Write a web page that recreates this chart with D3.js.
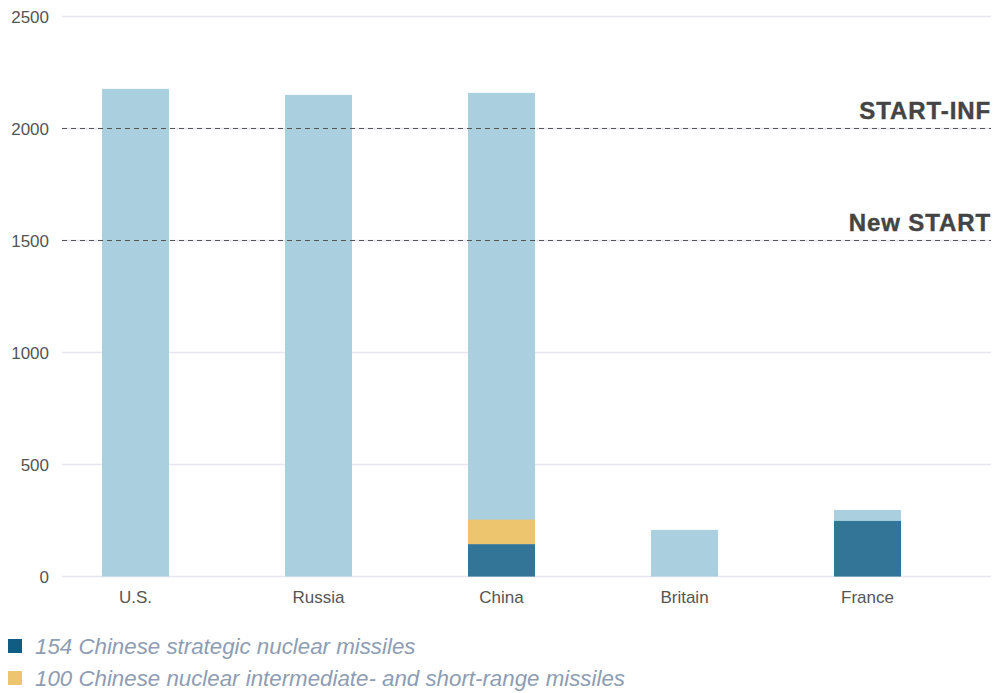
<!DOCTYPE html>
<html>
<head>
<meta charset="utf-8">
<script src="https://cdn.jsdelivr.net/npm/d3@7"></script>
<style>
  html, body { margin: 0; padding: 0; background: #fff; }
  svg { display: block; font-family: "Liberation Sans", Arial, Helvetica, sans-serif; }
</style>
</head>
<body>
<svg id="chart" width="995" height="693"></svg>
<script>
const categories = ["U.S.", "Russia", "China", "Britain", "France"];
const totalWarheads = [2177, 2150, 2159, 208, 297];
const strategicMissiles = [0, 0, 144, 0, 248];
const intermediateMissiles = [0, 0, 110, 0, 0];
const yTicks = [0, 500, 1000, 1500, 2000, 2500];
const treatyLimits = [2000, 1500];
const treatyNames = ["START-INF", "New START"];
const legendLabels = ["154 Chinese strategic nuclear missiles", "100 Chinese nuclear intermediate- and short-range missiles"];

const colLight = "#aacfdf", colDark = "#337596", colYellow = "#eec56f", colLegendDark = "#0f5c85";

const svg = d3.select("#chart");
const y = d3.scaleLinear().domain([0, 2500]).range([576.5, 16.5]);
const x = d3.scaleBand().domain(categories).range([44, 959]).paddingInner(0.634).paddingOuter(0.317);

// gridlines
svg.append("g").selectAll("line").data(yTicks).join("line")
  .attr("x1", 62).attr("x2", 991)
  .attr("y1", d => y(d)).attr("y2", d => y(d))
  .attr("stroke", "#e6e6ef").attr("stroke-width", 1.5);

// y labels
svg.append("g").selectAll("text").data(yTicks).join("text")
  .attr("x", 49).attr("y", d => y(d)).attr("dy", "0.36em")
  .attr("text-anchor", "end").attr("font-size", 17).attr("fill", "#555")
  .text(d => d);

// bars
const bars = svg.append("g");
bars.selectAll("rect.total").data(categories).join("rect")
  .attr("x", d => x(d)).attr("width", x.bandwidth())
  .attr("y", (d, i) => y(totalWarheads[i]))
  .attr("height", (d, i) => y(0) - y(totalWarheads[i]))
  .attr("fill", colLight);
bars.selectAll("rect.inter").data(categories).join("rect")
  .attr("x", d => x(d)).attr("width", x.bandwidth())
  .attr("y", (d, i) => y(strategicMissiles[i] + intermediateMissiles[i]))
  .attr("height", (d, i) => y(strategicMissiles[i]) - y(strategicMissiles[i] + intermediateMissiles[i]))
  .attr("fill", colYellow);
bars.selectAll("rect.strat").data(categories).join("rect")
  .attr("x", d => x(d)).attr("width", x.bandwidth())
  .attr("y", (d, i) => y(strategicMissiles[i]))
  .attr("height", (d, i) => y(0) - y(strategicMissiles[i]))
  .attr("fill", colDark);

// treaty lines
treatyLimits.forEach((v, i) => {
  svg.append("line").attr("x1", 62).attr("x2", 991)
    .attr("y1", y(v)).attr("y2", y(v))
    .attr("stroke", "#555").attr("stroke-width", 1).attr("stroke-dasharray", "5,4");
  svg.append("text").attr("x", 991).attr("y", y(v) - 10)
    .attr("text-anchor", "end").attr("font-size", 24).attr("font-weight", "bold")
    .attr("letter-spacing", "0.9px")
    .attr("stroke", "#444").attr("stroke-width", 0.4)
    .attr("fill", "#444").text(treatyNames[i]);
});

// category labels
svg.append("g").selectAll("text").data(categories).join("text")
  .attr("x", d => x(d) + x.bandwidth() / 2).attr("y", 603)
  .attr("text-anchor", "middle").attr("font-size", 17).attr("fill", "#555")
  .text(d => d);

// legend
const legendColors = [colLegendDark, colYellow];
legendLabels.forEach((t, i) => {
  const ly = 639 + i * 32;
  svg.append("rect").attr("x", 8).attr("y", ly).attr("width", 14).attr("height", 14).attr("fill", legendColors[i]);
  svg.append("text").attr("x", 35).attr("y", ly + 15)
    .attr("font-size", 22.3).attr("font-style", "italic").attr("font-weight", 300)
    .attr("fill", "#8e9db3").text(t);
});
</script>
</body>
</html>
